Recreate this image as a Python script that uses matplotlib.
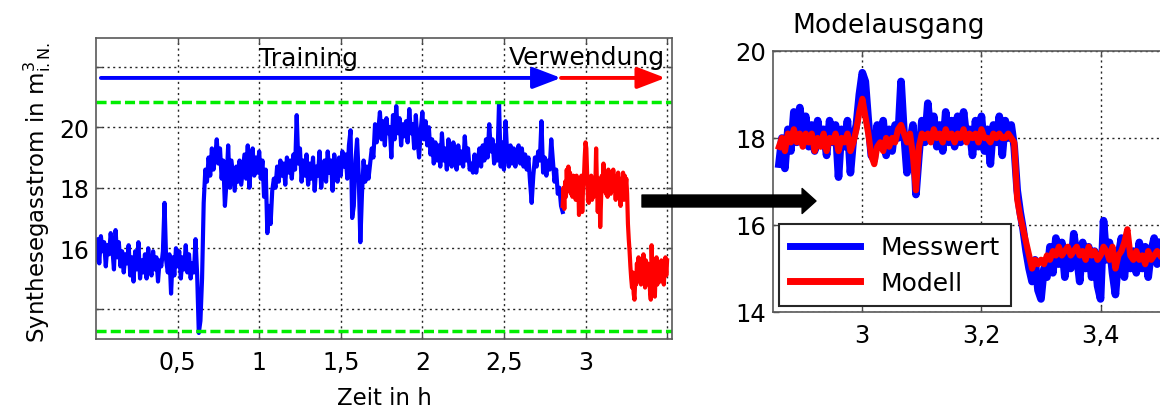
#!/usr/bin/env python3
"""
Synthesegasstrom: Trainings-/Verwendungsdaten links, Modellausgang rechts.
Schreibt out.png (1160x410).
"""
import numpy as np
import matplotlib
matplotlib.use("Agg")
import matplotlib.pyplot as plt
from matplotlib.patches import FancyArrowPatch

OUT_FILE = "out.png"

# Messwerte Trainingsphase, Abtastung 0,01 h ab t = 0
TRAIN_DT = 0.01
train_flow = [
    15.6, 16.3, 15.5, 16.4, 15.9, 16.2, 15.4, 16.1, 15.8, 16.5,
    16.0, 15.3, 16.6, 15.7, 16.2, 15.4, 15.9, 15.2, 15.8, 15.5,
    16.1, 15.1, 15.7, 14.9, 15.9, 15.3, 16.2, 15.0, 15.6, 15.2,
    15.8, 15.0, 16.0, 15.4, 15.1, 15.9, 15.3, 15.7, 14.9, 15.6,
    15.4, 15.9, 17.5, 15.6, 15.2, 15.8, 14.5, 15.7, 15.1, 16.0,
    15.4, 15.9, 15.0, 15.7, 15.3, 16.1, 15.2, 15.8, 15.0, 15.5,
    15.2, 16.3, 15.1, 13.2, 13.6, 15.0, 17.5, 18.6, 18.2, 19.0,
    18.4, 19.3, 18.6, 19.0, 19.6, 18.8, 19.3, 18.3, 18.9, 17.4,
    18.2, 19.4, 18.0, 18.9, 18.4, 17.9, 18.7, 18.2, 18.9, 18.1,
    18.6, 19.1, 18.3, 19.4, 18.0, 18.8, 19.3, 18.4, 19.0, 18.5,
    19.2, 18.3, 18.9, 17.7, 18.6, 16.5, 17.4, 16.8, 17.9, 18.3,
    18.0, 18.7, 18.2, 18.9, 18.4, 18.8, 18.1, 19.0, 18.5, 18.9,
    18.3, 19.1, 18.6, 20.4, 18.8, 19.3, 18.2, 18.9, 18.4, 19.1,
    18.1, 18.8, 18.3, 19.0, 17.9, 18.7, 18.4, 19.2, 18.0, 18.6,
    18.9, 18.2, 19.2, 18.5, 18.9, 17.9, 19.1, 18.6, 18.2, 19.0,
    18.4, 19.2, 18.7, 19.1, 18.3, 19.4, 19.9, 17.0, 17.4, 18.9,
    19.6, 18.4, 16.2, 17.8, 18.9, 18.2, 18.7, 18.3, 18.8, 19.3,
    19.0, 20.1, 19.5, 19.9, 20.5, 19.6, 20.2, 19.4, 20.3, 19.8,
    20.0, 19.0, 20.4, 19.6, 20.7, 19.8, 20.3, 19.4, 20.1, 19.7,
    20.2, 19.5, 20.6, 19.8, 20.1, 19.3, 20.4, 19.6, 19.0, 19.9,
    20.5, 19.6, 20.2, 19.4, 20.0, 19.1, 19.6, 18.8, 19.5, 18.9,
    19.4, 18.7, 19.8, 18.9, 19.3, 18.6, 19.6, 19.0, 18.7, 19.5,
    19.0, 18.6, 19.4, 18.8, 19.2, 18.7, 19.7, 18.9, 19.3, 18.6,
    18.8, 18.5, 19.1, 18.5, 18.9, 19.3, 18.7, 19.4, 18.9, 19.6,
    19.0, 20.1, 19.2, 19.6, 18.8, 19.4, 18.9, 20.8, 18.7, 19.5,
    18.6, 20.2, 19.1, 18.7, 19.4, 18.8, 19.3, 18.7, 19.2, 19.4,
    18.8, 19.3, 18.7, 19.1, 18.6, 19.0, 18.2, 17.5, 18.4, 19.0,
    18.7, 19.2, 18.9, 20.2, 18.5, 19.0, 18.4, 18.9, 18.6, 19.6,
    18.9, 18.2, 18.6, 17.8, 18.0, 17.4, 17.2,
]

# Verwendungsphase, Abtastung 0,005 h ab t = 2,86 h
USE_T0 = 2.86
USE_DT = 0.005
measured = [
    17.4, 18.0, 17.3, 18.2, 17.7, 18.6, 17.9, 18.7, 18.1, 18.5,
    17.8, 18.3, 17.7, 18.4, 17.9, 18.2, 17.6, 18.4, 17.9, 18.3,
    17.1, 18.2, 17.8, 18.4, 17.2, 18.0, 18.3, 19.0, 19.5, 19.3,
    18.4, 17.6, 17.5, 18.3, 17.8, 18.4, 17.6, 18.2, 17.7, 18.3,
    18.0, 19.3, 18.1, 17.2, 17.9, 18.3, 16.7, 17.6, 18.4, 17.9,
    18.8, 18.0, 18.5, 17.8, 18.3, 17.7, 18.6, 17.9, 18.4, 17.8,
    18.5, 17.9, 18.6, 18.0, 18.2, 17.6, 18.4, 17.8, 18.5, 17.7,
    18.2, 17.4, 18.3, 17.9, 18.5, 17.6, 18.4, 18.0, 18.3, 17.8,
    16.8, 16.3, 15.9, 15.4, 15.0, 14.7, 15.2, 14.5, 14.3, 15.0,
    14.8, 15.5, 14.9, 15.7, 15.1, 15.6, 14.8, 15.4, 15.0, 15.8,
    15.3, 14.7, 15.6, 15.0, 15.5, 14.8, 15.4, 14.6, 14.3, 16.1,
    15.2, 15.6, 14.9, 14.4, 15.3, 15.7, 14.8, 15.5, 15.0, 15.4,
    14.9, 15.6, 15.0, 15.5, 14.8, 15.4, 15.7, 15.1, 15.6,
]
model = [
    17.8, 18.0, 17.7, 18.1, 17.9, 18.2, 17.9, 18.1, 17.8, 18.1,
    17.9, 18.1, 17.7, 18.0, 17.8, 18.1, 17.7, 18.0, 17.9, 18.1,
    17.7, 18.0, 17.9, 18.1, 17.7, 17.9, 18.2, 18.6, 18.9, 18.5,
    18.1, 17.6, 17.4, 17.8, 17.9, 17.7, 18.0, 17.8, 18.0, 17.9,
    18.2, 18.3, 18.1, 17.9, 18.1, 17.6, 16.8, 17.8, 18.1, 18.0,
    18.1, 17.9, 18.2, 18.0, 18.1, 17.9, 18.2, 18.0, 18.1, 17.9,
    18.1, 18.0, 18.2, 17.9, 18.1, 18.0, 18.1, 17.9, 18.2, 18.0,
    18.0, 17.9, 18.1, 18.0, 18.1, 18.0, 18.0, 18.1, 18.0, 17.9,
    16.6, 16.2, 15.9, 15.6, 15.3, 15.0, 15.2, 15.1, 15.2, 15.1,
    15.3, 15.2, 15.4, 15.3, 15.5, 15.3, 15.4, 15.5, 15.3, 15.4,
    15.5, 15.3, 15.4, 15.2, 15.5, 15.3, 15.4, 15.2, 15.3, 15.5,
    15.4, 15.2, 15.5, 15.0, 15.3, 15.4, 15.6, 15.9, 15.3, 15.2,
    15.4, 15.2, 15.3, 15.1, 15.4, 15.2, 15.3, 15.4, 15.3,
]

# Grenzen (gruen gestrichelt)
limits = [20.85, 13.25]

left_xticks = [0.5, 1.0, 1.5, 2.0, 2.5, 3.0, 3.5]
left_xlabels = ["0,5", "1", "1,5", "2", "2,5", "3", ""]
left_yticks = [14, 16, 18, 20, 22]
left_ylabels = ["", "16", "18", "20", ""]
right_xticks = [3.0, 3.2, 3.4]
right_xlabels = ["3", "3,2", "3,4"]
right_yticks = [14, 16, 18, 20]
right_ylabels = ["14", "16", "18", "20"]

BLUE = "#0000ff"
RED = "#ff0000"
GREEN = "#00ee00"
W, H = 1160, 410


def style_axes(ax, fs):
    ax.grid(True, color="0.15", linestyle=(0, (1.5, 2.5)), linewidth=1.0)
    ax.set_axisbelow(True)
    ax.tick_params(direction="in", length=4, width=1, top=True, right=True,
                   labelsize=fs, colors="0.3", labelcolor="black")
    for s in ax.spines.values():
        s.set_color("0.35")
        s.set_linewidth(1.2)


def main():
    t_train = np.arange(len(train_flow)) * TRAIN_DT
    t_use = USE_T0 + np.arange(len(measured)) * USE_DT

    fig = plt.figure(figsize=(W / 100, H / 100), dpi=100)

    # --- links: gesamter Verlauf
    ax1 = fig.add_axes([96 / W, 70 / H, 576 / W, 301 / H])
    ax1.plot(t_train, train_flow, color=BLUE, lw=3.0)
    ax1.plot(t_use, measured, color=RED, lw=3.0)
    for y in limits:
        ax1.axhline(y, color=GREEN, lw=2.5, linestyle=(0, (2.9, 1.2)))
    ax1.set_xlim(0, 3.53)
    ax1.set_ylim(13, 22.95)
    ax1.set_xticks(left_xticks, left_xlabels)
    ax1.set_yticks(left_yticks, left_ylabels)
    style_axes(ax1, 17)
    ax1.tick_params(axis="x", pad=8)
    ax1.tick_params(axis="y", pad=5)

    arrow_y = 21.63
    ax1.annotate("", xy=(USE_T0 - 0.01, arrow_y), xytext=(0.03, arrow_y),
                 arrowprops=dict(arrowstyle="-|>,head_length=17,head_width=6.5",
                                 mutation_scale=1, color=BLUE, lw=2.8,
                                 shrinkA=0, shrinkB=0))
    ax1.annotate("", xy=(3.49, arrow_y), xytext=(USE_T0 - 0.01, arrow_y),
                 arrowprops=dict(arrowstyle="-|>,head_length=17,head_width=6.5",
                                 mutation_scale=1, color=RED, lw=2.8,
                                 shrinkA=0, shrinkB=0))
    ax1.text(1.305, 22.05, "Training", fontsize=18, ha="center", va="baseline")
    ax1.text(3.485, 22.08, "Verwendung", fontsize=18, ha="right", va="baseline")

    ax1.set_xlabel("Zeit in h", fontsize=16.5)
    ax1.xaxis.set_label_coords(0.5, -0.155)
    ax1.set_ylabel(r"Synthesegasstrom in m$^3_{\mathrm{i.N.}}$", fontsize=16.5)
    ax1.yaxis.set_label_coords(-0.075, 0.49)

    # --- rechts: Modellausgang in der Verwendungsphase
    ax2 = fig.add_axes([773 / W, 97 / H, 402 / W, 261 / H])
    ax2.plot(t_use, measured, color=BLUE, lw=5.5, label="Messwert")
    ax2.plot(t_use, model, color=RED, lw=4.5, label="Modell")
    ax2.set_xlim(2.85, 3.525)
    ax2.set_ylim(14, 20)
    ax2.set_xticks(right_xticks, right_xlabels)
    ax2.set_yticks(right_yticks, right_ylabels)
    style_axes(ax2, 17.5)
    ax2.tick_params(axis="x", pad=8)
    ax2.tick_params(axis="y", pad=5)
    leg = ax2.legend(loc="lower left", bbox_to_anchor=(0.015, 0.023),
                     fontsize=18, frameon=True, fancybox=False, framealpha=1,
                     edgecolor="0.15", handlelength=2.8, borderpad=0.45,
                     labelspacing=0.45, handletextpad=0.8, borderaxespad=0)
    leg.get_frame().set_linewidth(1.5)
    for ln in leg.get_lines():
        ln.set_linewidth(5)

    fig.text(792 / W, 1 - 26 / H, "Modelausgang", fontsize=19,
             ha="left", va="center")

    # Pfeil von links nach rechts
    arr = FancyArrowPatch((642 / W, 1 - 202 / H), (816 / W, 1 - 202 / H),
                          transform=fig.transFigure,
                          arrowstyle="simple,head_length=10,head_width=18,tail_width=8.6",
                          mutation_scale=1, color="black", shrinkA=0, shrinkB=0)
    fig.add_artist(arr)

    fig.savefig(OUT_FILE, dpi=100)
    print("Wrote", OUT_FILE)


if __name__ == "__main__":
    main()
